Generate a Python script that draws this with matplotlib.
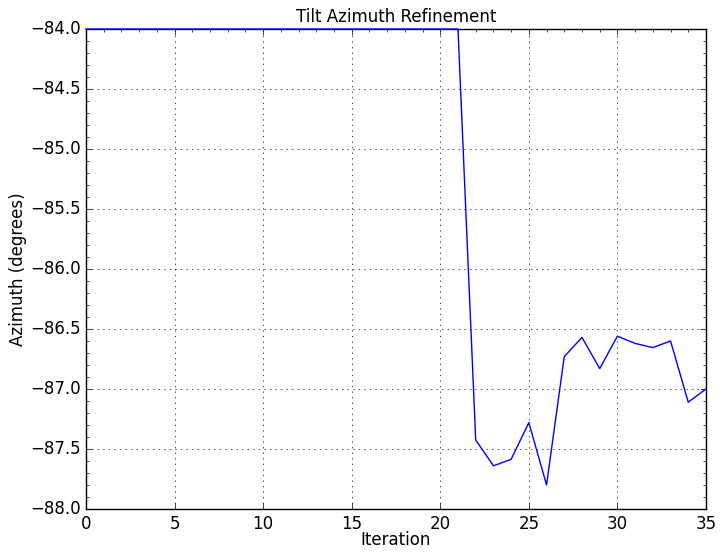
import matplotlib
matplotlib.use("Agg")
import matplotlib.pyplot as plt
import numpy as np

plt.style.use('classic')

iterations = list(range(36))
azimuth = [-84.0] * 22 + [-87.425, -87.64, -87.586, -87.28, -87.80, -86.73, -86.57,
                          -86.83, -86.56, -86.62, -86.655, -86.60, -87.11, -87.00]

fig = plt.figure(figsize=(7.24, 5.55), dpi=100)
ax = fig.add_axes([0.1188, 0.0829, 0.8563, 0.8648])
ax.plot(iterations, azimuth, color='b', clip_on=False, zorder=5)
ax.set_xlim(0, 35)
ax.set_ylim(-88, -84)
ax.grid(True)
ax.set_title('Tilt Azimuth Refinement', fontsize=12)
ax.set_xlabel('Iteration', labelpad=-1)
ax.set_ylabel('Azimuth (degrees)', labelpad=2)
ax.minorticks_on()
ax.tick_params(axis='x', which='minor', bottom=False, top=True)
fig.savefig('out.png', dpi=100)
